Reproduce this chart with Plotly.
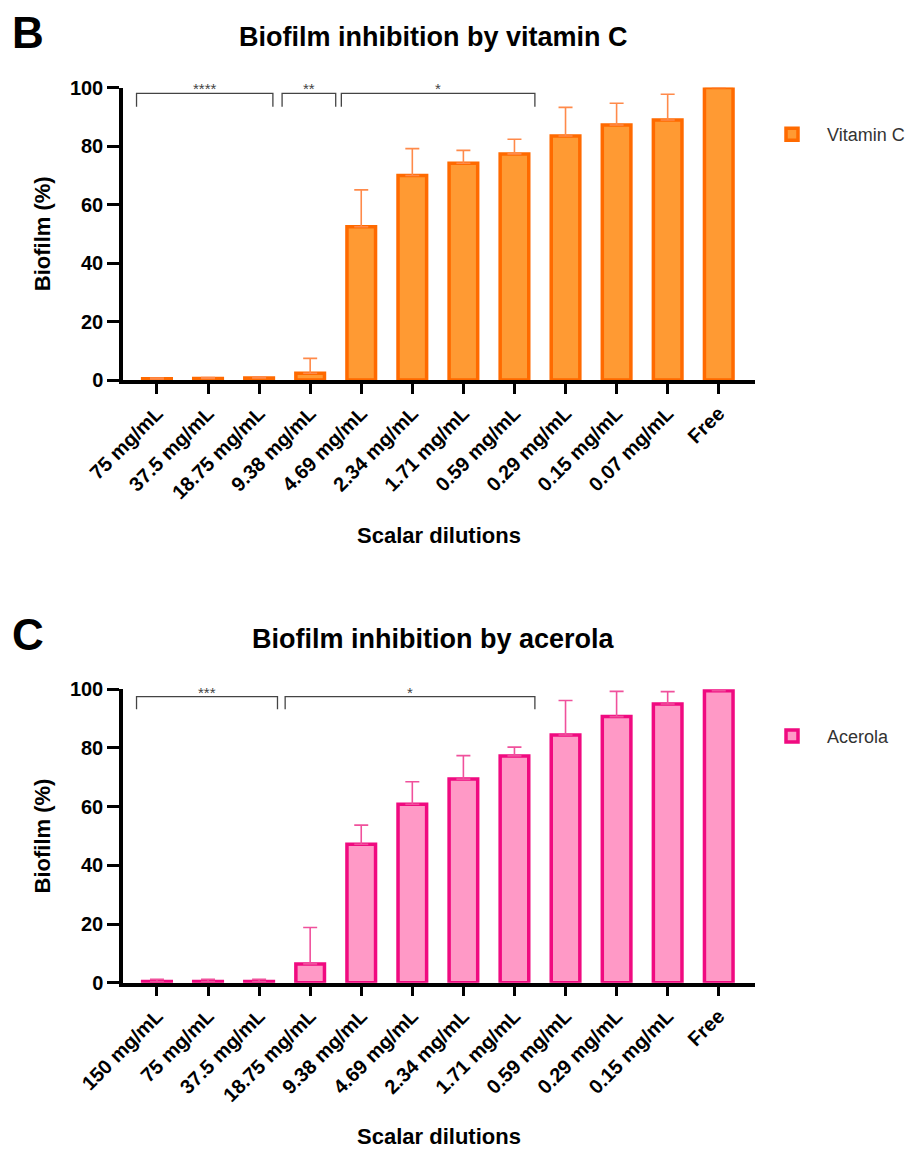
import plotly.graph_objects as go

# ---------------- data ----------------
vitc_labels = ["75 mg/mL", "37.5 mg/mL", "18.75 mg/mL", "9.38 mg/mL", "4.69 mg/mL",
               "2.34 mg/mL", "1.71 mg/mL", "0.59 mg/mL", "0.29 mg/mL", "0.15 mg/mL",
               "0.07 mg/mL", "Free"]
vitc_mean = [0.4, 0.5, 0.7, 2.3, 52.4, 69.9, 74.1, 77.3, 83.4, 87.2, 88.9, 100.0]
vitc_sd = [0.3, 0.3, 0.3, 5.1, 12.6, 9.2, 4.4, 5.0, 9.8, 7.4, 8.8, 0.0]
vitc_brackets = [(-0.4, 2.27, "****"), (2.45, 3.5, "**"), (3.61, 7.4, "*")]

acer_labels = ["150 mg/mL", "75 mg/mL", "37.5 mg/mL", "18.75 mg/mL", "9.38 mg/mL",
               "4.69 mg/mL", "2.34 mg/mL", "1.71 mg/mL", "0.59 mg/mL", "0.29 mg/mL",
               "0.15 mg/mL", "Free"]
acer_mean = [0.4, 0.4, 0.4, 6.4, 47.2, 60.8, 69.4, 77.3, 84.4, 90.7, 95.0, 99.5]
acer_sd = [0.8, 0.8, 0.8, 12.4, 6.5, 7.7, 8.0, 3.0, 11.8, 8.6, 4.2, 0.0]
acer_brackets = [(-0.4, 2.36, "***"), (2.51, 7.4, "*")]

y_ticks = [0, 20, 40, 60, 80, 100]

# ---------------- style ----------------
FONT = "Arial, Liberation Sans, sans-serif"
W, H = 911, 1149
X_DOM = [123 / W, 755 / W]
PANELS = [
    dict(labels=vitc_labels, mean=vitc_mean, sd=vitc_sd, brackets=vitc_brackets,
         name="Vitamin C", fill="#FF9A33", edge="#FF6A00", err="#FF8A4A",
         title="Biofilm inhibition by vitamin C", letter="B",
         ytop=87.5, ybot=380.0, br_top=98.0, br_drop=93.4, legend="legend"),
    dict(labels=acer_labels, mean=acer_mean, sd=acer_sd, brackets=acer_brackets,
         name="Acerola", fill="#FF99C6", edge="#F00A80", err="#F0519C",
         title="Biofilm inhibition by acerola", letter="C",
         ytop=689.3, ybot=982.7, br_top=97.5, br_drop=93.2, legend="legend2"),
]

fig = go.Figure()
shapes, annotations = [], []
layout = dict(width=W, height=H, margin=dict(l=0, r=0, t=0, b=0, autoexpand=False),
              paper_bgcolor="white", plot_bgcolor="white",
              font=dict(family=FONT, color="black"), showlegend=True)

for i, p in enumerate(PANELS):
    sfx = "" if i == 0 else str(i + 1)
    xa, ya = "x" + sfx, "y" + sfx
    n = len(p["labels"])
    xs = list(range(n))
    fig.add_trace(go.Bar(
        x=xs, y=p["mean"], name=p["name"], xaxis=xa, yaxis=ya, legend=p["legend"],
        width=0.56, cliponaxis=False,
        marker=dict(color=p["fill"], line=dict(color=p["edge"], width=3.5)),
        error_y=dict(type="data", array=p["sd"], arrayminus=[0] * n, symmetric=False,
                     color=p["err"], thickness=1.6, width=7),
    ))
    ydom = [1 - p["ybot"] / H, 1 - p["ytop"] / H]
    layout["xaxis" + sfx] = dict(
        domain=X_DOM, anchor=ya, range=[-0.665, 11.71], automargin=False,
        tickvals=xs, ticktext=p["labels"], tickangle=-45,
        showline=True, linewidth=3.5, linecolor="black", ticks="outside",
        ticklen=10, tickwidth=3, tickcolor="black", showgrid=False, zeroline=False,
        tickfont=dict(family=FONT, size=20, weight="bold", color="black"),
        title=dict(text="Scalar dilutions", standoff=26,
                   font=dict(family=FONT, size=22, weight="bold", color="black")),
    )
    layout["yaxis" + sfx] = dict(
        domain=ydom, anchor=xa, range=[0, 100], tickvals=y_ticks, automargin=False,
        showline=True, linewidth=3.5, linecolor="black", ticks="outside",
        ticklen=12, tickwidth=3, tickcolor="black", showgrid=False, zeroline=False,
        tickfont=dict(family=FONT, size=20, weight="bold", color="black"),
        title=dict(text="Biofilm (%)", standoff=14,
                   font=dict(family=FONT, size=22, weight="bold", color="black")),
    )
    layout[p["legend"]] = dict(
        x=757 / W, y=1 - (p["ytop"] + 47) / H, xanchor="left", yanchor="middle",
        itemwidth=60,
        bgcolor="rgba(0,0,0,0)", font=dict(family=FONT, size=18, color="#333333"),
    )
    # significance brackets
    for x0, x1, lab in p["brackets"]:
        shapes.append(dict(
            type="path", xref=xa, yref=ya,
            path=f"M {x0},{p['br_drop']} L {x0},{p['br_top']} L {x1},{p['br_top']} L {x1},{p['br_drop']}",
            line=dict(color="#444444", width=1.3),
        ))
        annotations.append(dict(
            x=(x0 + x1) / 2, y=p["br_top"], xref=xa, yref=ya, text=lab,
            showarrow=False, yanchor="bottom", yshift=-6,
            font=dict(family=FONT, size=15, color="#444444"),
        ))
    # panel title and letter
    annotations.append(dict(
        x=433 / W, y=1 - (p["ytop"] - 50) / H, xref="paper", yref="paper",
        text=p["title"], showarrow=False, xanchor="center", yanchor="middle",
        font=dict(family=FONT, size=27, weight="bold", color="black"),
    ))
    annotations.append(dict(
        x=10 / W, y=1 - (p["ytop"] - 55) / H, xref="paper", yref="paper",
        text=p["letter"], showarrow=False, xanchor="left", yanchor="middle",
        font=dict(family=FONT, size=44, weight="bold", color="black"),
    ))

layout["shapes"] = shapes
layout["annotations"] = annotations
fig.update_layout(**layout)
fig.write_html("out.html", config={"displayModeBar": False},
               post_script="document.body.style.margin='0px';document.body.style.overflow='hidden';")
